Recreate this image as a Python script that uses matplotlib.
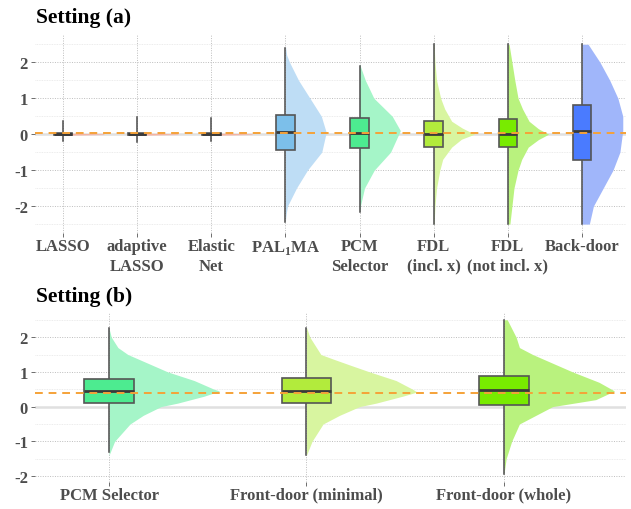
import numpy as np
import matplotlib
matplotlib.use("Agg")
import matplotlib.pyplot as plt
from matplotlib.patches import Rectangle

plt.rcParams["font.family"] = ["Liberation Serif", "DejaVu Serif"]
plt.rcParams["font.weight"] = "bold"
plt.rcParams["mathtext.fontset"] = "custom"
plt.rcParams["mathtext.rm"] = "Liberation Serif:bold"

# ── Setting (a) ───────────────────────────────────────────────────────────────
cats_a = ["LASSO", "adaptive\nLASSO", "Elastic\nNet", r"PAL$_\mathrm{1}$MA",
          "PCM\nSelector", "FDL\n(incl. x)", "FDL\n(not incl. x)", "Back-door"]
whisk_lo_a = [-0.19, -0.22, -0.20, -2.45, -2.15, -2.5, -2.5, -2.5]
q1_a = [-0.02, -0.02, -0.02, -0.44, -0.39, -0.36, -0.36, -0.72]
med_a = [0.0, 0.0, 0.0, 0.06, 0.03, 0.0, 0.0, 0.08]
q3_a = [0.02, 0.02, 0.02, 0.53, 0.44, 0.36, 0.42, 0.81]
whisk_hi_a = [0.36, 0.47, 0.44, 2.40, 1.90, 2.5, 2.5, 2.5]
truth_a = 0.03

# half-violin outlines: y value and relative width
spike_y = [-0.03, -0.01, 0.01, 0.03]
spike_w = [0.0, 1.0, 1.0, 0.0]
dens_y_a = [
    spike_y, spike_y, spike_y,
    [2.45, 2.2, 2.0, 1.5, 1.0, 0.5, 0.05, -0.5, -1.0, -1.5, -2.0, -2.2, -2.4],
    [1.95, 1.5, 1.0, 0.5, 0.1, -0.5, -1.0, -1.5, -2.0, -2.15],
    [2.5, 2.0, 1.5, 1.0, 0.7, 0.36, 0.17, 0.0, -0.14, -0.36, -0.7, -1.0, -1.5, -2.0, -2.5],
    [2.5, 2.0, 1.5, 1.0, 0.7, 0.36, 0.15, 0.0, -0.15, -0.36, -0.7, -1.0, -1.5, -2.0, -2.5],
    [2.5, 2.0, 1.5, 1.0, 0.5, 0.1, -0.5, -1.0, -1.5, -2.0, -2.5],
]
dens_w_a = [
    spike_w, spike_w, spike_w,
    [0.0, 0.03, 0.1, 0.32, 0.6, 0.88, 1.0, 0.89, 0.54, 0.27, 0.05, 0.02, 0.0],
    [0.0, 0.14, 0.35, 0.8, 1.0, 0.76, 0.36, 0.12, 0.02, 0.0],
    [0.01, 0.03, 0.07, 0.17, 0.27, 0.44, 0.7, 1.0, 0.68, 0.44, 0.22, 0.15, 0.07, 0.03, 0.01],
    [0.03, 0.1, 0.17, 0.25, 0.36, 0.52, 0.75, 1.0, 0.75, 0.5, 0.34, 0.25, 0.15, 0.1, 0.05],
    [0.15, 0.44, 0.68, 0.88, 1.0, 1.0, 0.93, 0.76, 0.52, 0.28, 0.18],
]
box_col_a = ["#E8A090", "#E8A090", "#E8A090", "#7CBFEA", "#4DEB90",
             "#B2EB3C", "#78EB00", "#4A7BFF"]
vio_col_a = ["#F4B3A3", "#F4B3A3", "#F4B3A3", "#BEDDF5", "#A5F5C8",
             "#D8F5A0", "#B9F27E", "#A0B6FA"]

# ── Setting (b) ───────────────────────────────────────────────────────────────
cats_b = ["PCM Selector", "Front-door (minimal)", "Front-door (whole)"]
whisk_lo_b = [-1.3, -1.4, -1.95]
q1_b = [0.11, 0.11, 0.06]
med_b = [0.46, 0.46, 0.48]
q3_b = [0.80, 0.83, 0.88]
whisk_hi_b = [2.25, 2.25, 2.5]
truth_b = 0.4

dens_y_b = [
    [2.25, 2.0, 1.7, 1.5, 1.25, 1.0, 0.75, 0.5, 0.45, 0.3, 0.1, 0.0, -0.25, -0.5, -1.0, -1.4],
    [2.28, 2.0, 1.5, 1.37, 1.2, 1.0, 0.75, 0.5, 0.42, 0.3, 0.1, 0.0, -0.25, -0.5, -1.0, -1.4],
    [2.5, 2.0, 1.7, 1.5, 1.0, 0.7, 0.45, 0.2, 0.0, -0.5, -1.0, -1.5, -1.95],
]
dens_w_b = [
    [0.0, 0.02, 0.08, 0.17, 0.35, 0.53, 0.77, 0.95, 1.0, 0.86, 0.62, 0.47, 0.31, 0.19, 0.05, 0.0],
    [0.0, 0.03, 0.13, 0.24, 0.39, 0.57, 0.81, 0.96, 1.0, 0.87, 0.63, 0.48, 0.30, 0.15, 0.05, 0.0],
    [0.03, 0.11, 0.14, 0.26, 0.62, 0.86, 1.0, 0.83, 0.44, 0.14, 0.07, 0.02, 0.0],
]
box_col_b = ["#4DEB90", "#B2EB3C", "#78EB00"]
vio_col_b = ["#A5F5C8", "#D8F5A0", "#B9F27E"]

_TICK_COL = "#4D4D4D"
_ORANGE = "#F5A238"


def _draw_panel(ax, cats, lo, q1, med, q3, hi, dy, dw, box_cols, vio_cols,
                truth, vio_width, xlim, ylim, labelsize):
    pos = np.arange(1, len(cats) + 1)
    ax.set_xlim(*xlim)
    ax.set_ylim(*ylim)

    # grid
    for y in np.arange(-2.5, 2.6, 1.0):
        ax.axhline(y, color="#E6E6E6", lw=0.6, ls=(0, (1, 1)), zorder=0)
    for y in range(-2, 3):
        ax.axhline(y, color="#BDBDBD", lw=0.7, ls=(0, (1, 1.5)), zorder=0)
    for x in pos:
        ax.axvline(x, color="#BDBDBD", lw=0.7, ls=(0, (1, 1.5)), zorder=0)
    ax.axhline(0, color="#E0E0E0", lw=1.8, zorder=0.5)

    for i, x in enumerate(pos):
        yy = np.array(dy[i])
        ww = np.array(dw[i]) * vio_width
        ax.fill_betweenx(yy, x, x + ww, color=vio_cols[i], lw=0, zorder=1)
        ax.plot([x, x], [lo[i], hi[i]], color="#4A4A4A", lw=1.1, zorder=2)
        ax.add_patch(Rectangle((x - 0.125, q1[i]), 0.25, q3[i] - q1[i],
                               facecolor=box_cols[i], edgecolor="#555555",
                               lw=1.2, zorder=3))
        ax.plot([x - 0.125, x + 0.125], [med[i], med[i]], color="#3A3A3A",
                lw=2.0, zorder=4, solid_capstyle="butt")

    ax.axhline(truth, color=_ORANGE, lw=1.4, ls=(0, (4, 3)), zorder=5)

    ax.set_xticks(pos)
    ax.set_xticklabels(cats, fontsize=labelsize, color=_TICK_COL,
                       fontweight="bold", linespacing=1.3)
    ax.set_yticks([-2, -1, 0, 1, 2])
    ax.set_yticklabels(["-2", "-1", "0", "1", "2"], fontsize=labelsize,
                       color=_TICK_COL, fontweight="bold")
    ax.tick_params(axis="both", length=3, width=0.6, color="#555555", pad=2)
    ax.tick_params(axis="x", pad=0.5)
    for spine in ax.spines.values():
        spine.set_visible(False)


fig = plt.figure(figsize=(6.31, 5.10), dpi=100)
ax_a = fig.add_axes([0.0555, 0.541, 0.9365, 0.390])
ax_b = fig.add_axes([0.0555, 0.053, 0.9365, 0.333])

_draw_panel(ax_a, cats_a, whisk_lo_a, q1_a, med_a, q3_a, whisk_hi_a,
            dens_y_a, dens_w_a, box_col_a, vio_col_a, truth_a, 0.55,
            (0.622, 8.593), (-2.75, 2.78), 12)
_draw_panel(ax_b, cats_b, whisk_lo_b, q1_b, med_b, q3_b, whisk_hi_b,
            dens_y_b, dens_w_b, box_col_b, vio_col_b, truth_b, 0.56,
            (0.625, 3.618), (-2.17, 2.72), 12)

fig.text(0.057, 0.965, "Setting (a)", fontsize=15.5, fontweight="bold",
         ha="left", va="center")
fig.text(0.057, 0.418, "Setting (b)", fontsize=15.5, fontweight="bold",
         ha="left", va="center")

fig.savefig("out.png", dpi=100)
